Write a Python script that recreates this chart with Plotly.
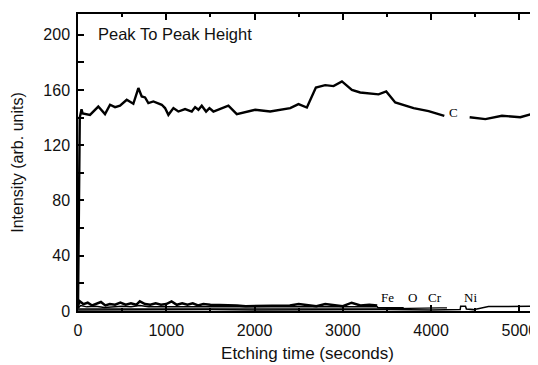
import plotly.graph_objects as go

# Carbon peak-to-peak intensity (two segments, gap where the "C" label sits)
c_x1 = [0, 20, 40, 53, 136, 230, 306, 363, 420, 476, 552, 627, 684, 722, 760, 797, 854, 949, 986,
        1024, 1081, 1137, 1213, 1289, 1327, 1364, 1402, 1451, 1489, 1534, 1704, 1799, 2007, 2177,
        2404, 2498, 2593, 2695, 2800, 2895, 2990, 3103, 3197, 3405, 3492, 3594, 3802, 3972, 4150]
c_y1 = [2, 140, 146, 143, 142, 148, 142.5, 149.3, 147.6, 148.6, 152.9, 150, 161.4, 155.3, 154.6, 150.5,
        151.7, 149.3, 146.9, 142, 146.9, 144.4, 146.2, 144.4, 147.6, 145.7, 148.6, 144.4, 146.9, 144.4,
        148.6, 142.5, 145.7, 144.4, 146.9, 149.8, 147.3, 161.8, 163.5, 162.8, 166.2, 160.1, 158.2,
        156.8, 158.9, 151, 146.9, 144.7, 141.3]
c_x2 = [4437, 4615, 4803, 5011, 5200]
c_y2 = [140.3, 138.9, 141.3, 140.3, 143.7]

# Low-level elements (Fe, O, Cr, Ni)
fe_x = [0, 20, 60, 110, 160, 210, 260, 310, 360, 420, 480, 540, 600, 660, 700, 760, 820, 880, 940,
        1000, 1060, 1120, 1180, 1240, 1300, 1360, 1420, 1500, 1600, 1700, 1800, 1900, 2000, 2100,
        2200, 2300, 2400, 2500, 2600, 2700, 2800, 2900, 3000, 3100, 3200, 3300, 3390]
fe_y = [4, 7, 5, 6, 4, 5, 6.5, 4, 5, 4.5, 6, 4.5, 5.5, 4.5, 7, 5, 4.5, 5.5, 4.5, 5, 7, 4.5, 5.5, 4.5,
        5.5, 4, 5, 4.5, 4.5, 4, 4, 3.5, 3.5, 4, 4, 3.5, 4, 5, 4, 3.5, 5, 4, 3.5, 6, 4, 4.5, 4]
o_x = [0, 30, 100, 200, 300, 400, 500, 600, 700, 800, 900, 1000, 1200, 1400, 1600, 1800, 2000, 2200,
       2400, 2600, 2800, 3000, 3200, 3390, 3400, 3690]
o_y = [2, 4, 3, 3.5, 2.5, 3, 3.5, 3, 4, 3, 3, 3.5, 3, 3, 3.5, 3, 3, 3, 3.5, 3, 3.5, 3, 3, 3, 2.4, 2.4]
cr_x = [0, 200, 400, 600, 800, 1000, 1200, 1400, 1600, 1800, 2000, 2200, 2400, 2600, 2800, 3000,
        3200, 3400, 4100, 4180]
cr_y = [1.5, 1.5, 2, 1.5, 2, 1.5, 2, 1.5, 2, 1.5, 2, 1.5, 2, 2, 1.5, 2, 1.5, 1.5, 2.2, 2.2]
ni_x = [0, 500, 1000, 1500, 2000, 2500, 3000, 3500, 4000, 4330, 4335, 4390, 4400, 4480, 4650, 5200]
ni_y = [0.8, 1, 0.8, 1, 0.8, 1, 0.8, 1, 0.8, 1, 3.5, 3.5, 1.5, 1, 3.2, 3.5]

labels = ["Fe", "O", "Cr", "Ni"]
label_x = [3509, 3792, 4048, 4450]
label_y = [9.6, 9.6, 9.6, 9.6]

x_ticks = [0, 1000, 2000, 3000, 4000, 5000]
y_ticks = [0, 40, 80, 120, 160, 200]

fig = go.Figure()
fig.add_trace(go.Scatter(x=ni_x, y=ni_y, mode="lines", line=dict(color="black", width=1.5)))
fig.add_trace(go.Scatter(x=cr_x, y=cr_y, mode="lines", line=dict(color="black", width=1.2)))
fig.add_trace(go.Scatter(x=o_x, y=o_y, mode="lines", line=dict(color="black", width=1.5)))
fig.add_trace(go.Scatter(x=fe_x, y=fe_y, mode="lines", line=dict(color="black", width=2.5)))
fig.add_trace(go.Scatter(x=c_x1, y=c_y1, mode="lines", line=dict(color="black", width=2.4)))
fig.add_trace(go.Scatter(x=c_x2, y=c_y2, mode="lines", line=dict(color="black", width=2.4)))

for t, xx, yy in zip(labels, label_x, label_y):
    fig.add_annotation(x=xx, y=yy, text=t, showarrow=False,
                       font=dict(family="Liberation Serif", size=13, color="black"))
fig.add_annotation(x=4252, y=143.5, text="C", showarrow=False,
                   font=dict(family="Liberation Serif", size=13, color="black"))
fig.add_annotation(x=0.039, xref="paper", y=200.5, text="Peak To Peak Height", showarrow=False,
                   xanchor="left", font=dict(family="Liberation Sans", size=16.5, color="#111"))

axis_common = dict(showline=True, linecolor="black", linewidth=1.5, mirror="ticks",
                   ticks="inside", ticklen=6, tickwidth=1.5, tickcolor="black",
                   showgrid=False, zeroline=False, automargin=False,
                   tickfont=dict(family="Liberation Sans", size=16, color="#111"))

fig.update_xaxes(range=[0, 5200], tickvals=x_ticks, ticklabelstandoff=4,
                 minor=dict(dtick=500, ticks="inside", ticklen=3, tickcolor="black"),
                 title=dict(text="Etching time (seconds)", standoff=9,
                            font=dict(family="Liberation Sans", size=17, color="#111")),
                 **axis_common)
fig.update_yaxes(range=[0, 215], tickvals=y_ticks, ticklabelstandoff=3,
                 minor=dict(dtick=20, ticks="inside", ticklen=6, tickcolor="black"),
                 title=dict(text="Intensity (arb. units)", standoff=16,
                            font=dict(family="Liberation Sans", size=16, color="#111")),
                 **axis_common)

# page body has an 8px default margin, so the figure is offset by (8, 8)
fig.update_layout(width=530, height=357, margin=dict(l=70, r=1, t=6, b=54),
                  plot_bgcolor="white", paper_bgcolor="white", showlegend=False)

fig.write_html("out.html")
